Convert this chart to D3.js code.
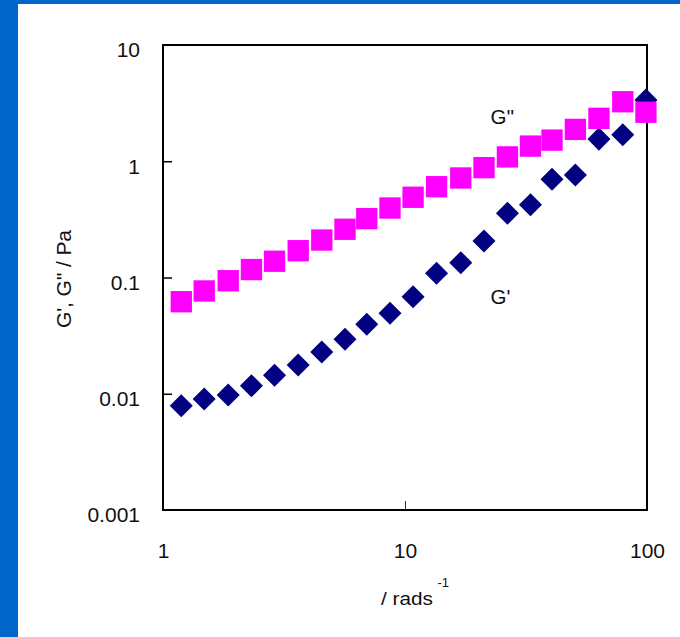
<!DOCTYPE html>
<html>
<head>
<meta charset="utf-8">
<script src="https://cdn.jsdelivr.net/npm/d3@7"></script>
<style>
  html, body { margin: 0; padding: 0; background: #fff; }
  svg { display: block; }
  text { font-family: "Liberation Sans", Arial, sans-serif; fill: #111; }
</style>
</head>
<body>
<svg id="chart" width="680" height="637"></svg>
<script>
// Angular frequency (rad/s)
const frequency = [1.19, 1.48, 1.86, 2.32, 2.89, 3.62, 4.53, 5.65, 6.95, 8.67,
                   10.8, 13.5, 17.0, 21.2, 26.5, 33.0, 40.5, 50.6, 63.3, 79.4, 99.0];
// Loss modulus G'' (Pa)
const lossModulus = [0.0619, 0.0766, 0.0938, 0.117, 0.138, 0.170, 0.210, 0.260, 0.321, 0.396,
                     0.490, 0.604, 0.718, 0.881, 1.09, 1.35, 1.52, 1.88, 2.34, 3.25, 2.64];
// Storage modulus G' (Pa)
const storageModulus = [0.00789, 0.00901, 0.00976, 0.0117, 0.0144, 0.0177, 0.0229, 0.0294, 0.0396, 0.0492,
                        0.0684, 0.109, 0.134, 0.206, 0.357, 0.423, 0.700, 0.762, 1.55, 1.69, 3.36];
// Axis ticks and labels
const xTicks = [1, 10, 100];
const xTickLabels = ["1", "10", "100"];
const yTicks = [0.001, 0.01, 0.1, 1, 10];
const yTickLabels = ["0.001", "0.01", "0.1", "1", "10"];

const svg = d3.select("#chart");
const W = 680, H = 637;
const FONT = "'Liberation Sans', Arial, sans-serif";

// slide frame: blue strips at left and top
svg.append("rect").attr("x", 0).attr("y", 0).attr("width", W).attr("height", H).attr("fill", "#0066CC");
svg.append("rect").attr("x", 18).attr("y", 4).attr("width", W - 18).attr("height", H - 4).attr("fill", "#ffffff");

const plot = { left: 163, top: 45, right: 647, bottom: 510 };

const x = d3.scaleLog().domain([1, 100]).range([plot.left, plot.right]);
const y = d3.scaleLog().domain([0.001, 10]).range([plot.bottom, plot.top]);

// y axis (ticks point inward)
const yAxis = d3.axisLeft(y)
  .tickValues(yTicks)
  .tickSize(-9)
  .tickPadding(23)
  .tickFormat((d, i) => yTickLabels[i]);
const gy = svg.append("g").attr("transform", `translate(${plot.left},0)`).call(yAxis);
gy.select(".domain").remove();
gy.selectAll(".tick line").attr("stroke", "#000").attr("stroke-width", 1.5)
  .filter(d => d === yTicks[0] || d === yTicks[yTicks.length - 1]).remove();
gy.selectAll(".tick text").attr("font-size", 21).attr("dy", "0.56em").attr("fill", "#111")
  .attr("font-family", FONT);

// x axis (ticks point inward)
const xAxis = d3.axisBottom(x)
  .tickValues(xTicks)
  .tickSize(-9)
  .tickPadding(33)
  .tickFormat((d, i) => xTickLabels[i]);
const gx = svg.append("g").attr("transform", `translate(0,${plot.bottom})`).call(xAxis);
gx.select(".domain").remove();
gx.selectAll(".tick line").attr("stroke", "#333").attr("stroke-width", 1)
  .filter(d => d === xTicks[0] || d === xTicks[xTicks.length - 1]).remove();
gx.selectAll(".tick text").attr("font-size", 21).attr("dy", "0.71em").attr("fill", "#111")
  .attr("font-family", FONT);

// plot frame
svg.append("rect")
  .attr("x", plot.left).attr("y", plot.top)
  .attr("width", plot.right - plot.left).attr("height", plot.bottom - plot.top)
  .attr("fill", "none").attr("stroke", "#000").attr("stroke-width", 2);

// G' as navy diamonds
const diamond = d3.symbol().type(d3.symbolSquare).size(265)();
svg.append("g").selectAll("path")
  .data(frequency.map((f, i) => [f, storageModulus[i]]))
  .join("path")
  .attr("d", diamond)
  .attr("transform", d => `translate(${x(d[0])},${y(d[1])}) rotate(45)`)
  .attr("fill", "#000080");

// G'' as magenta squares
const square = d3.symbol().type(d3.symbolSquare).size(455)();
svg.append("g").selectAll("path")
  .data(frequency.map((f, i) => [f, lossModulus[i]]))
  .join("path")
  .attr("d", square)
  .attr("transform", d => `translate(${x(d[0])},${y(d[1])})`)
  .attr("fill", "#FF00FF");

// series labels
svg.append("text").attr("x", 490.5).attr("y", 123.5).attr("font-size", 20.5).text("G''");
svg.append("text").attr("x", 490.5).attr("y", 303.5).attr("font-size", 20.5).text("G'");

// axis titles
svg.append("text")
  .attr("transform", "translate(70.5,279) rotate(-90)")
  .attr("text-anchor", "middle")
  .attr("font-size", 21)
  .attr("textLength", 98)
  .attr("lengthAdjust", "spacing")
  .text("G', G'' / Pa");

svg.append("text")
  .attr("x", 381).attr("y", 605)
  .attr("font-size", 17.5)
  .attr("textLength", 52)
  .attr("lengthAdjust", "spacingAndGlyphs")
  .text("/ rads");
svg.append("text")
  .attr("x", 437.5).attr("y", 587)
  .attr("font-size", 13)
  .text("-1");
</script>
</body>
</html>
